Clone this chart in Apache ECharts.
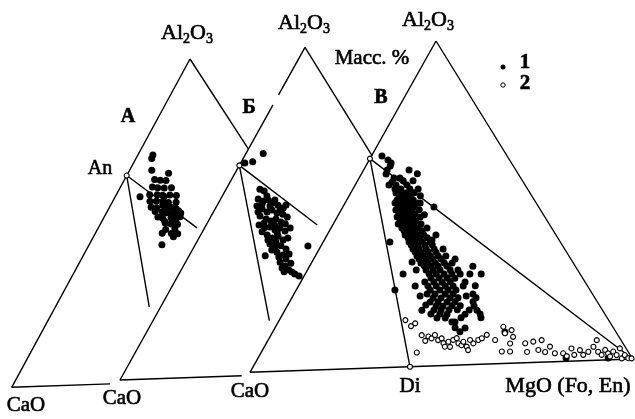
<!DOCTYPE html>
<html><head><meta charset="utf-8">
<script src="https://cdn.jsdelivr.net/npm/echarts@6/dist/echarts.min.js"></script>
<style>html,body{margin:0;padding:0;background:#fff}#c{width:635px;height:419px}</style>
</head><body><div id="c"></div>
<script>
// ---------- DATA: compositions, mass %  [MgO, Al2O3]  (CaO = 100 - MgO - Al2O3) ----------
const anComp = [0, 64.5];   // anorthite
const diComp = [41.8, 0];   // diopside
// Triangle А – group 1
const ptsA1 = [[8,63],[9.6,62.7],[8.5,60.7],[11.2,62.5],[10.0,60.4],[8.9,58.3],[11.8,60.2],[13.7,60.2],[10.9,58.2],[12.4,58.0],[9.9,56.3],[14.3,58.0],[11.6,56.2],[13.4,56.0],[16.1,57.8],[11.1,54.4],[15.0,55.7],[12.7,54.1],[14.9,54.4],[17.0,55.7],[12.8,53.0],[16.5,54.1],[14.7,52.9],[16.1,52.5],[17.9,53.7],[14.3,51.3],[17.7,52.2],[15.7,50.9],[17.9,51.0],[19.8,52.3],[17.2,49.3],[19.4,50.7],[18.8,49.0],[20.6,48.8],[18.2,47.3],[20.5,47.5],[20.3,46.0],[22.0,45.9],[4.0,70.6],[4.2,69.5],[5.9,65.9],[10.8,64.8],[6.6,57.8],[19.4,42.6],[21.3,45.0],[17.8,46.2],[20.2,51.1],[19.0,52.5],[13.0,57.5],[15.5,53.5],[18.5,50.2],[16.8,49.8],[13.9,54.9],[18.9,53.0]];
// Triangle Б – group 1
const ptsB1 = [[9.0,57.0],[10.4,56.4],[10.0,54.0],[11.6,53.3],[12.8,53.6],[14.5,52.6],[16.2,51.9],[18.0,51.0],[10.7,51.9],[12.5,50.9],[14.3,49.9],[15.3,50.5],[17.1,49.5],[18.8,49.1],[20.4,48.2],[13.0,48.8],[15.1,47.8],[16.7,47.1],[17.7,47.7],[19.5,46.7],[14.1,46.0],[15.9,45.1],[17.3,45.3],[19.1,44.3],[20.1,44.9],[21.9,43.9],[17.7,42.9],[19.5,41.9],[20.8,42.4],[22.7,41.2],[23.7,41.7],[19.8,40.1],[21.6,39.1],[23.0,39.4],[24.8,38.4],[20.3,36.5],[22.9,37.5],[24.9,36.6],[26.4,36.8],[25.2,34.4],[27.1,33.2],[28.2,34.0],[27.7,31.4],[28.7,31.9],[30.9,30.6],[32.3,30.0],[30.2,39.1],[1.1,65.2],[3.0,65.5],[4.6,67.9],[14.6,53.5],[20.9,46.1],[11.8,52.4],[14.2,51.7],[11.9,50.0],[17.5,50.4],[15.1,46.6],[18.3,45.8],[15.9,43.9],[20.1,43.4],[18.7,41.3],[21.1,40.6],[21.2,38.2],[24.1,36.0],[26.3,35.3],[26.6,32.6],[29.8,31.3],[11.9,54.8],[18.3,51.9],[22.8,44.8]];
// Triangle В – group 1 (filled)
const ptsV1 = [[2.8,65.2],[5.0,63.9],[6.3,62.9],[6.5,62.0],[6.3,60.8],[12.1,60.6],[6.6,59.6],[14.9,59.3],[9.3,58.3],[10.9,58.2],[14.8,57.2],[12.2,57.3],[9.0,56.2],[10.9,56.1],[13.8,56.0],[11.2,54.9],[12.8,54.8],[15.2,54.7],[17.4,54.6],[12.1,53.6],[13.7,53.6],[14.8,53.5],[16.9,53.5],[13.4,52.7],[14.7,52.6],[16.3,52.6],[19.0,52.5],[13.4,51.5],[14.5,51.4],[16.1,51.4],[17.7,51.3],[13.3,50.6],[14.7,50.5],[16.0,50.5],[17.6,50.4],[19.2,50.3],[14.7,49.3],[16.1,49.3],[17.7,49.2],[19.0,49.1],[24.3,48.9],[14.6,48.4],[16.0,48.4],[17.3,48.3],[18.9,48.2],[20.8,48.2],[16.0,47.2],[17.4,47.1],[18.7,47.0],[20.3,47.0],[16.0,46.2],[17.3,46.2],[18.6,46.1],[20.2,46.1],[22.1,46.0],[17.4,45.0],[18.7,44.9],[20.0,44.9],[21.6,44.8],[17.3,44.1],[18.6,44.0],[19.9,44.0],[21.5,43.9],[23.4,43.8],[18.9,42.8],[20.3,42.7],[21.6,42.7],[23.2,42.6],[19.9,41.9],[21.3,41.8],[22.9,41.7],[24.7,41.7],[20.8,40.6],[22.4,40.5],[24.0,40.5],[25.8,40.4],[29.0,40.3],[22.0,39.7],[23.4,39.6],[25.2,39.5],[27.1,39.5],[17.8,38.6],[22.9,38.4],[24.5,38.4],[26.4,38.3],[28.5,38.2],[23.9,37.5],[25.7,37.4],[27.6,37.3],[29.5,37.3],[25.0,36.2],[26.6,36.2],[28.5,36.1],[30.6,36.0],[33.0,35.9],[26.0,35.3],[27.6,35.2],[29.5,35.1],[31.6,35.0],[27.1,34.0],[28.7,34.0],[30.6,33.9],[32.7,33.8],[34.8,33.7],[28.1,33.1],[30.0,33.0],[31.8,32.9],[34.0,32.8],[29.2,31.8],[31.1,31.7],[33.0,31.7],[35.4,31.6],[37.5,31.5],[30.5,30.9],[32.3,30.8],[34.2,30.7],[36.6,30.6],[43.5,30.3],[31.6,29.6],[33.5,29.5],[35.3,29.5],[38.0,29.4],[40.1,29.3],[26.1,28.6],[33.0,28.4],[34.9,28.3],[37.0,28.2],[39.1,28.1],[41.3,28.0],[43.9,27.9],[46.9,27.8],[34.1,27.1],[36.3,27.0],[38.4,26.9],[40.5,26.8],[33.1,25.9],[35.5,25.8],[37.7,25.7],[39.8,25.7],[43.8,25.5],[31.1,24.8],[34.5,24.7],[36.7,24.6],[39.1,24.5],[41.2,24.4],[43.9,24.3],[47.1,24.2],[26.3,23.8],[35.7,23.4],[38.3,23.3],[40.5,23.2],[42.6,23.1],[35.5,22.2],[37.6,22.1],[40.3,22.0],[42.4,21.9],[47.7,21.7],[37.7,20.9],[39.8,20.8],[42.2,20.7],[44.3,20.7],[49.1,20.5],[37.5,19.7],[39.6,19.6],[42.0,19.5],[44.1,19.5],[48.9,19.3],[39.7,18.4],[41.5,18.3],[43.9,18.3],[46.1,18.2],[49.8,18.0],[36.5,17.3],[39.7,17.2],[41.6,17.1],[43.7,17.1],[45.9,17.0],[51.2,16.7],[39.5,16.0],[41.9,15.9],[43.8,15.8],[48.6,15.6],[52.6,15.5],[41.7,14.7],[43.9,14.6],[48.1,14.5],[53.4,14.3],[47.1,13.3],[48.0,11.5],[50.7,11.3],[49.9,10.2],[61.9,9.7],[82.1,1.0],[93.3,0.6],[9.4,57.1],[12.5,53.9],[20.0,50.3],[22.9,46.6],[25.6,42.5],[28.7,38.8],[26.7,32.2],[29.0,29.7],[37.7,32.7],[33.9,21.7],[36.8,18.8],[46.2,21.2],[49.1,16.8],[46.3,13.3]];
// Triangle В – group 2 (open)
const ptsV2 = [[33.6,14.4],[36.0,12.5],[36.7,13.3],[41.5,4.3],[40.2,9.6],[42.2,9.1],[43.3,8.5],[43.7,9.5],[45.3,7.9],[46.0,8.4],[47.2,6.9],[48.1,5.8],[48.3,7.3],[49.5,5.7],[49.3,7.8],[50.0,8.3],[51.2,6.7],[52.3,6.1],[52.3,7.1],[53.9,5.6],[54.8,4.5],[53.8,7.6],[55.2,6.5],[56.0,7.5],[56.7,8.0],[57.5,9.0],[60.5,7.3],[60.7,11.3],[62.1,9.3],[63.4,10.2],[64.8,8.1],[65.0,6.1],[64.0,3.7],[66.2,3.6],[69.0,6.0],[70.9,6.4],[72.9,6.8],[73.5,3.8],[76.1,4.7],[78.4,2.6],[80.6,2.5],[82.0,1.6],[82.1,3.9],[84.6,3.3],[86.2,1.8],[87.1,2.7],[87.7,4.2],[87.6,6.2],[89.7,2.6],[91.1,1.6],[91.3,3.1],[92.6,2.0],[93.6,1.0],[93.7,2.5],[95.1,1.4],[95.0,3.4],[97.0,0.3],[97.3,1.3],[98.7,0.3],[99.6,0.2],[42.0,7.8],[70.8,3.3],[75.6,3.1],[83.8,1.9]];
const legendNames = ['1', '2'];

// ---------- LAYOUT ----------
const FR = {
  A: {C: [11.7, 387.3], T: [190, 59],   M: [394.4, 374]},
  B: {C: [120, 380],    T: [305, 47.3], M: [502.7, 366.7]},
  V: {C: [250, 372.3],  T: [436, 41],   M: [632.7, 359]}
};
function place(f, p) {
  const m = p[0] / 100, a = p[1] / 100;
  return [f.C[0] + m * (f.M[0] - f.C[0]) + a * (f.T[0] - f.C[0]),
          f.C[1] + m * (f.M[1] - f.C[1]) + a * (f.T[1] - f.C[1])];
}
const SEGS = [
  ['A', [[0,100],[0,0],[25.7,0]]], ['A', [[0,100],[28.6,71.4]]],
  ['A', [anComp,[26.3,47.5]]], ['A', [anComp,[25,23.5]]],
  ['B', [[0,100],[0,85.7]]], ['B', [[0,82.7],[0,0],[31.8,0]]], ['B', [[0,100],[34,66]]],
  ['B', [anComp,[29.6,45.4]]], ['B', [anComp,[31,16.6]]],
  ['V', [[0,100],[0,0],[100,0],[0,100]]], ['V', [anComp, diComp]], ['V', [anComp,[100,0]]]
];
const FONT = '"Liberation Serif","Times New Roman",serif';
const series = [];
SEGS.forEach(s => series.push({
  type: 'line', data: s[1].map(p => place(FR[s[0]], p)), symbol: 'none',
  lineStyle: {color: '#000', width: 1.4}, silent: true, z: 2
}));
const filled = {symbol: 'circle', symbolSize: 7, itemStyle: {color: '#000', opacity: 1}, silent: true};
series.push(Object.assign({type: 'scatter', name: legendNames[0], data: ptsA1.map(p => place(FR.A, p)), z: 4}, filled));
series.push(Object.assign({type: 'scatter', name: legendNames[0], data: ptsB1.map(p => place(FR.B, p)), z: 4}, filled));
series.push(Object.assign({type: 'scatter', name: legendNames[0], data: ptsV1.map(p => place(FR.V, p)), z: 4}, filled));
series.push({type: 'scatter', name: legendNames[1], data: ptsV2.map(p => place(FR.V, p)), symbol: 'circle', symbolSize: 5, silent: true,
  itemStyle: {color: '#fff', borderColor: '#000', borderWidth: 1.1, opacity: 1}, z: 5});
series.push({type: 'scatter', data: [place(FR.A, anComp), place(FR.B, anComp), place(FR.V, anComp), place(FR.V, diComp)], silent: true,
  symbol: 'circle', symbolSize: 5, itemStyle: {color: '#fff', borderColor: '#000', borderWidth: 1.1, opacity: 1}, z: 6});

function txt(x, y, text, size, weight) {
  return {type: 'text', x: x, y: y, z: 10, style: {text: text, fill: '#000', fontSize: size, fontFamily: FONT,
    fontWeight: weight || 'normal', align: 'center', verticalAlign: 'middle', stroke: '#000', lineWidth: 0.6}};
}
function formula(x, y) {
  return {type: 'text', x: x, y: y, z: 10, style: {text: '{n|Al}{s|2}{n|O}{s|3}', fill: '#000', align: 'center', verticalAlign: 'middle',
    stroke: '#000', lineWidth: 0.6,
    rich: {n: {fontSize: 22, fontFamily: FONT, lineHeight: 26, verticalAlign: 'middle'},
           s: {fontSize: 14, fontFamily: FONT, lineHeight: 14, verticalAlign: 'bottom'}}}};
}
const graphic = [
  formula(187, 33), formula(304, 23), formula(428, 20),
  txt(372, 58, 'Масс. %', 21), txt(128, 117, 'А', 20, 'bold'), txt(249, 108, 'Б', 20, 'bold'), txt(381, 98, 'В', 20, 'bold'),
  txt(100, 169, 'An', 20),
  txt(26, 405, 'CaO', 21), txt(122, 398, 'CaO', 21), txt(250, 391, 'CaO', 21), txt(410, 386, 'Di', 21),
  txt(568, 386, 'MgO (Fo, En)', 22),
  {type: 'circle', shape: {cx: 503, cy: 67, r: 2.5}, style: {fill: '#000'}, z: 10},
  {type: 'circle', shape: {cx: 503, cy: 85, r: 2.2}, style: {fill: '#fff', stroke: '#000', lineWidth: 1}, z: 10},
  txt(525, 63, legendNames[0], 21, 'bold'), txt(525, 84, legendNames[1], 21, 'bold')
];
const chart = echarts.init(document.getElementById('c'), null, {renderer: 'canvas'});
chart.setOption({
  animation: false, backgroundColor: '#fff',
  grid: {left: 0, right: 0, top: 0, bottom: 0},
  xAxis: {type: 'value', min: 0, max: 635, show: false},
  yAxis: {type: 'value', min: 0, max: 419, inverse: true, show: false},
  series: series, graphic: graphic
});
</script></body></html>
